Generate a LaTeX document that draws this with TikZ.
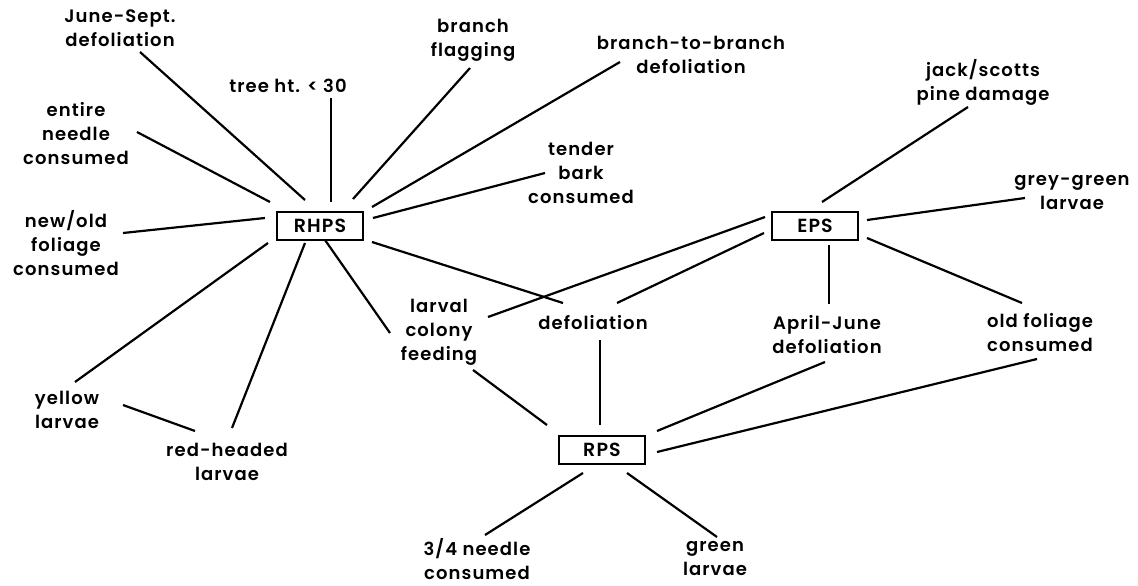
\documentclass[tikz,border=0pt]{standalone}
\usepackage{fontspec}
\setmainfont{Poppins}[UprightFont=* SemiBold, BoldFont=* SemiBold, LetterSpace=6]
\begin{document}
\begin{tikzpicture}[x=1pt,y=-1pt,
  lbl/.style={align=center, inner sep=0pt, font=\fontsize{18}{24}\selectfont},
  sp/.style={draw, line width=2.4pt, minimum width=86pt, minimum height=28pt,
             inner sep=0pt, font=\fontsize{19}{20}\selectfont},
  link/.style={line width=2.2pt}]
\useasboundingbox[fill=white] (0,0) rectangle (1138,586);

% species boxes
\node[sp] (rhps) at (320,226) {RHPS};
\node[sp] (eps)  at (815,226) {EPS};
\node[sp] (rps)  at (602,450) {RPS};

% symptom labels
\node[lbl] (june)    at (120,28)  {June-Sept.\\defoliation};
\node[lbl] (tree)    at (288,86)  {tree ht. < 30};
\node[lbl] (entire)  at (76,134)  {entire\\needle\\consumed};
\node[lbl] (newold)  at (66,243)  {new/old\\foliage\\consumed};
\node[lbl] (flag)    at (473,40)  {branch\\flagging};
\node[lbl] (btob)    at (691,55)  {branch-to-branch\\defoliation};
\node[lbl] (tender)  at (581,173) {tender\\bark\\consumed};
\node[lbl] (jack)    at (983,82)  {jack/scotts\\pine damage};
\node[lbl] (grey)    at (1072,193){grey-green\\larvae};
\node[lbl] (larval)  at (439,332) {larval\\colony\\feeding};
\node[lbl] (defol)   at (593,323) {defoliation};
\node[lbl] (aprjun)  at (827,335) {April-June\\defoliation};
\node[lbl] (oldfol)  at (1040,333){old foliage\\consumed};
\node[lbl] (yellow)  at (67,410)  {yellow\\larvae};
\node[lbl] (red)     at (227,462) {red-headed\\larvae};
\node[lbl] (needle)  at (477,559) {3/4 needle\\consumed};
\node[lbl] (green)   at (715,559) {green\\larvae};

% RHPS links
\draw[link] ([shift={(20,24)}]june.center)   -- ([shift={(-15,-26)}]rhps.center);
\draw[link] ([shift={(43,12)}]tree.center)   -- ([shift={(11,-24)}]rhps.center);
\draw[link] ([shift={(61,-2)}]entire.center) -- ([shift={(-50,-24)}]rhps.center);
\draw[link] ([shift={(57,-10)}]newold.center)-- ([shift={(-55,-8)}]rhps.center);
\draw[link] ([shift={(-3,28)}]flag.center)   -- ([shift={(33,-27)}]rhps.center);
\draw[link] ([shift={(-71,7)}]btob.center)   -- ([shift={(52,-19)}]rhps.center);
\draw[link] ([shift={(-36,0)}]tender.center) -- ([shift={(53,-8)}]rhps.center);
\draw[link] ([shift={(52,16)}]rhps.center)   -- ([shift={(-30,-20)}]defol.center);
\draw[link] ([shift={(5,14)}]rhps.center)    -- ([shift={(-49,1)}]larval.center);
\draw[link] ([shift={(-52,17)}]rhps.center)  -- ([shift={(8,-28)}]yellow.center);
\draw[link] ([shift={(-15,17)}]rhps.center)  -- ([shift={(5,-34)}]red.center);
\draw[link] ([shift={(56,-5)}]yellow.center) -- ([shift={(-32,-31)}]red.center);

% EPS links
\draw[link] ([shift={(-15,25)}]jack.center)  -- ([shift={(7,-24)}]eps.center);
\draw[link] ([shift={(-47,5)}]grey.center)   -- ([shift={(52,-6)}]eps.center);
\draw[link] ([shift={(52,12)}]eps.center)    -- ([shift={(-18,-30)}]oldfol.center);
\draw[link] ([shift={(14,19)}]eps.center)    -- ([shift={(2,-31)}]aprjun.center);
\draw[link] ([shift={(-50,-9)}]eps.center)   -- ([shift={(49,-15)}]larval.center);
\draw[link] ([shift={(-51,7)}]eps.center)    -- ([shift={(24,-20)}]defol.center);

% RPS links
\draw[link] ([shift={(34,38)}]larval.center) -- ([shift={(-55,-25)}]rps.center);
\draw[link] ([shift={(7,17)}]defol.center)   -- ([shift={(-2,-25)}]rps.center);
\draw[link] ([shift={(-2,27)}]aprjun.center) -- ([shift={(55,-19)}]rps.center);
\draw[link] ([shift={(-3,26)}]oldfol.center) -- ([shift={(55,2)}]rps.center);
\draw[link] ([shift={(-19,23)}]rps.center)   -- ([shift={(8,-24)}]needle.center);
\draw[link] ([shift={(25,23)}]rps.center)    -- ([shift={(2,-22)}]green.center);
\end{tikzpicture}
\end{document}
